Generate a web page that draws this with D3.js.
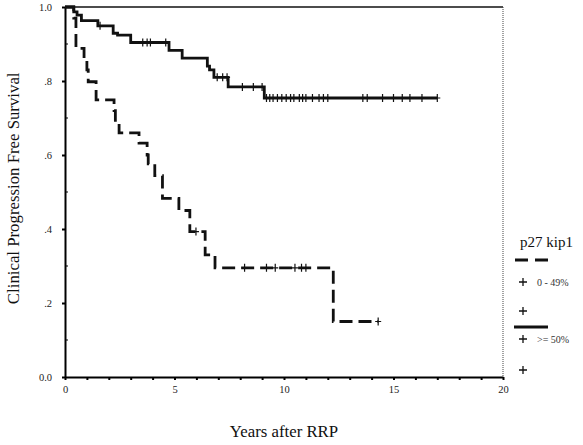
<!DOCTYPE html>
<html>
<head>
<meta charset="utf-8">
<script src="https://cdn.jsdelivr.net/npm/d3@7"></script>
<style>
body { margin: 0; background: #fff; }
</style>
</head>
<body>
<svg id="svg" width="583" height="445"></svg>
<script>
// p27 kip1 >= 50% (solid)
var highTimes = [0, 0.4, 0.55, 0.75, 1.5, 2.2, 2.4, 3.0, 4.75, 5.35, 6.5, 6.6, 6.8, 7.45, 9.1];
var highSurv  = [1.0, 0.987, 0.978, 0.963, 0.949, 0.929, 0.924, 0.904, 0.883, 0.862, 0.84, 0.83, 0.81, 0.784, 0.754];
var highEnd = 17.0;
var highCensor = [1.6, 3.55, 3.75, 3.9, 4.6, 6.95, 7.2, 7.4, 8.1, 8.6, 9.0, 9.2, 9.35, 9.5, 9.7, 9.9, 10.1,
                  10.3, 10.45, 10.7, 10.85, 11.0, 11.3, 11.6, 11.8, 12.0, 13.6, 13.8, 14.5, 15.0, 15.4, 15.75, 16.3, 17.0];

// p27 kip1 0 - 49% (dashed)
var lowTimes = [0, 0.4, 0.5, 0.87, 1.0, 1.06, 1.42, 2.24, 2.3, 2.47, 3.38, 3.75, 3.8, 4.1, 4.45, 5.2, 5.7, 6.4, 6.85, 12.25];
var lowSurv  = [1.0, 0.97, 0.888, 0.861, 0.83, 0.798, 0.749, 0.72, 0.69, 0.66, 0.632, 0.6, 0.576, 0.544, 0.483, 0.45, 0.393, 0.33, 0.295, 0.15];
var lowEnd = 14.3;
var lowCensor = [5.98, 8.2, 9.2, 9.6, 10.5, 10.8, 11.0, 14.3];

var xTicks = d3.range(0, 21, 1);
var yTicks = [0, 0.2, 0.4, 0.6, 0.8, 1.0];
var yMinor = [0.1, 0.3, 0.5, 0.7, 0.9];
var yLabels = ["0.0", ".2", ".4", ".6", ".8", "1.0"];

var svg = d3.select("#svg");
var font = "'Liberation Serif', 'DejaVu Serif', serif";

var x = d3.scaleLinear().domain([0, 20]).range([65, 503]);
var y = d3.scaleLinear().domain([0, 1]).range([377, 7]);

// frame
svg.append("line").attr("x1", 65).attr("x2", 503).attr("y1", y(1)).attr("y2", y(1))
    .attr("stroke", "#111").attr("stroke-width", 1.6);
svg.append("line").attr("x1", 503).attr("x2", 503).attr("y1", y(1)).attr("y2", y(0))
    .attr("stroke", "#444").attr("stroke-width", 1).attr("stroke-dasharray", "1,1");

// axes
var xAxis = svg.append("g").attr("transform", "translate(0,377)")
    .call(d3.axisBottom(x).tickValues(xTicks).tickSize(3).tickSizeOuter(0).tickPadding(6)
        .tickFormat(function(d) { return d % 5 === 0 ? d : ""; }));
var yAxis = svg.append("g").attr("transform", "translate(65,0)")
    .call(d3.axisLeft(y).tickValues(yTicks).tickSize(3).tickSizeOuter(0).tickPadding(10)
        .tickFormat(function(d, i) { return yLabels[i]; }));
[xAxis, yAxis].forEach(function(g) {
    g.select(".domain").attr("stroke", "#000").attr("stroke-width", 2);
    g.selectAll(".tick line").attr("stroke", "#000").attr("stroke-width", 2);
    g.selectAll("text").attr("font-family", font).attr("font-size", "10.5px").attr("fill", "#222");
});
svg.append("g").selectAll("line").data(yMinor).enter().append("line")
    .attr("x1", 65).attr("x2", 68)
    .attr("y1", function(d) { return y(d); }).attr("y2", function(d) { return y(d); })
    .attr("stroke", "#000").attr("stroke-width", 1);

// axis titles
svg.append("text")
    .attr("transform", "translate(19," + y(0.51) + ") rotate(-90)")
    .attr("text-anchor", "middle")
    .attr("font-family", font).attr("font-size", "16.8px").attr("fill", "#111")
    .text("Clinical Progression Free Survival");
svg.append("text")
    .attr("x", 284).attr("y", 437)
    .attr("text-anchor", "middle")
    .attr("font-family", font).attr("font-size", "16.8px").attr("fill", "#111")
    .text("Years after RRP");

// curves
function stepPoints(times, surv, end) {
    var pts = times.map(function(t, i) { return [t, surv[i]]; });
    pts.push([end, surv[surv.length - 1]]);
    return pts;
}
function survAt(times, surv, t) {
    var s = surv[0];
    for (var i = 0; i < times.length; i++) { if (times[i] <= t) s = surv[i]; }
    return s;
}
var line = d3.line()
    .x(function(d) { return x(d[0]); })
    .y(function(d) { return y(d[1]); })
    .curve(d3.curveStepAfter);

svg.append("path").datum(stepPoints(highTimes, highSurv, highEnd))
    .attr("d", line).attr("fill", "none")
    .attr("stroke", "#111").attr("stroke-width", 2.8);
svg.append("path").datum(stepPoints(lowTimes, lowSurv, lowEnd))
    .attr("d", line).attr("fill", "none")
    .attr("stroke", "#111").attr("stroke-width", 2.8)
    .attr("stroke-dasharray", "13,6");

// censor marks
function censor(data, times, surv) {
    svg.append("g").selectAll("path").data(data).enter().append("path")
        .attr("d", function(t) {
            var cx = x(t), cy = y(survAt(times, surv, t));
            return "M" + cx + "," + (cy - 4) + "V" + (cy + 4) + "M" + (cx - 3) + "," + cy + "H" + (cx + 3);
        })
        .attr("stroke", "#111").attr("stroke-width", 1.2).attr("fill", "none");
}
censor(highCensor, highTimes, highSurv);
censor(lowCensor, lowTimes, lowSurv);

// legend
var leg = svg.append("g");
function plus(cx, cy) {
    leg.append("path")
        .attr("d", "M" + (cx - 4) + "," + cy + "H" + (cx + 4) + "M" + cx + "," + (cy - 4) + "V" + (cy + 4))
        .attr("stroke", "#111").attr("stroke-width", 1.3);
}
leg.append("text").attr("x", 520).attr("y", 247)
    .attr("font-family", font).attr("font-size", "15px").attr("fill", "#111").text("p27 kip1");
leg.append("line").attr("x1", 515).attr("x2", 548).attr("y1", 260).attr("y2", 260)
    .attr("stroke", "#111").attr("stroke-width", 2.8).attr("stroke-dasharray", "13,7");
plus(523, 282);
leg.append("text").attr("x", 537).attr("y", 286)
    .attr("font-family", font).attr("font-size", "10px").attr("fill", "#333").text("0 - 49%");
plus(523, 311);
leg.append("line").attr("x1", 514).attr("x2", 548).attr("y1", 327).attr("y2", 327)
    .attr("stroke", "#111").attr("stroke-width", 2.8);
plus(523, 339);
leg.append("text").attr("x", 537).attr("y", 343)
    .attr("font-family", font).attr("font-size", "10px").attr("fill", "#333").text(">= 50%");
plus(523, 370);
</script>
</body>
</html>
